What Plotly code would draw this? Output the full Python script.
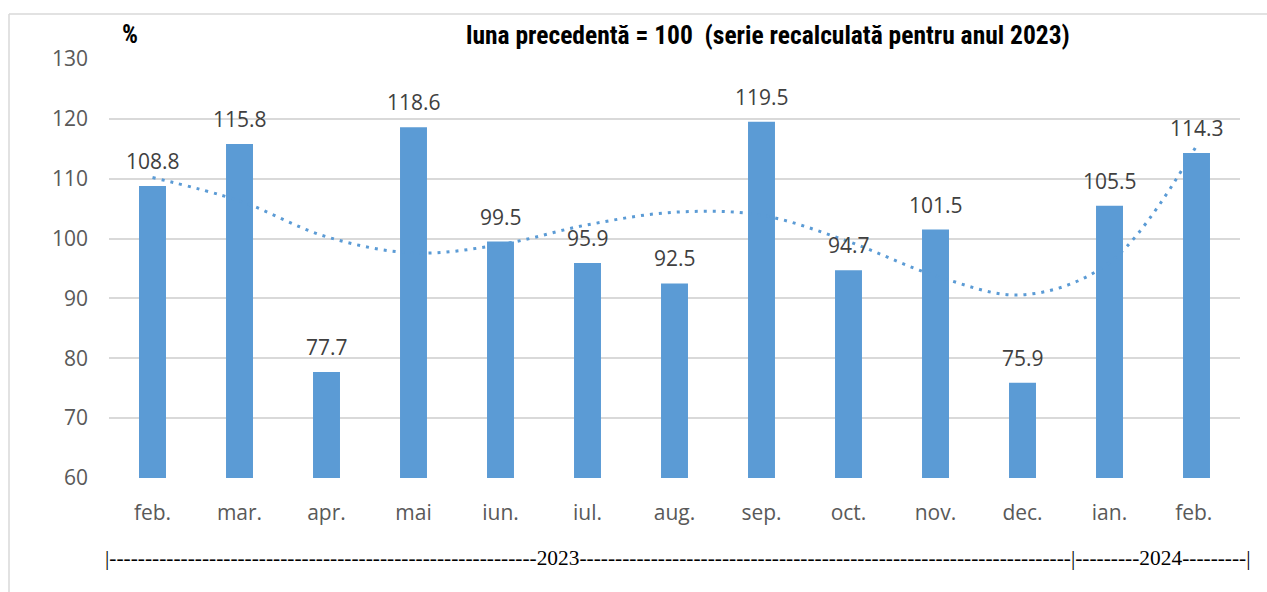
import plotly.graph_objects as go

categories = ["feb.", "mar.", "apr.", "mai", "iun.", "iul.", "aug.", "sep.", "oct.", "nov.", "dec.", "ian.", "feb. "]
values = [108.8, 115.8, 77.7, 118.6, 99.5, 95.9, 92.5, 119.5, 94.7, 101.5, 75.9, 105.5, 114.3]
# trendline (polynomial in the source) at each category
trend = [110.2, 106.3, 100.3, 97.6, 99.0, 102.3, 104.4, 103.9, 99.5, 93.8, 90.6, 96.0, 115.5]
y_ticks = [60, 70, 80, 90, 100, 110, 120, 130]

title_text = "luna precedentă = 100  (serie recalculată pentru anul 2023)"
unit_text = "%"
period_text = "|" + "-" * 60 + "2023" + "-" * 69 + "|" + "-" * 9 + "2024" + "-" * 9 + "|"

OFF = 0  # body margin removed via post_script
W, H = 1267, 592
# target plot area on screen: x 109..1240, y 59..478
L, T = 109 - OFF, 59 - OFF
R = W - (1240 - OFF)
B = H - (478 - OFF)
PW, PH = W - L - R, H - T - B


def px_x(px):
    return (px - OFF - L) / PW


def px_y(py):
    return (H - B - (py - OFF)) / PH


BLUE = "#5B9BD5"
SANS = "Open Sans, Noto Sans, sans-serif"
NARROW = "Liberation Sans Narrow, Arial Narrow, Roboto Condensed, Liberation Sans, Arial, sans-serif"

fig = go.Figure()
fig.add_trace(go.Bar(
    x=categories, y=values, marker=dict(color=BLUE, line=dict(width=0)),
    hoverinfo="x+y", showlegend=False,
))
fig.add_trace(go.Scatter(
    x=categories, y=trend, mode="lines",
    line=dict(color=BLUE, width=3, dash="3px,6px", shape="spline", smoothing=1.0),
    hoverinfo="skip", showlegend=False,
))

annotations = []
for c, v in zip(categories, values):
    annotations.append(dict(
        x=c, y=v, xref="x", yref="y", text=f"{v:.1f}", showarrow=False,
        yanchor="bottom", yshift=9, font=dict(family=SANS, size=21, color="#404040"),
    ))
annotations.append(dict(
    x=px_x(768), y=px_y(35), xref="paper", yref="paper", text="<b>" + title_text + "</b>",
    showarrow=False, xanchor="center", yanchor="middle",
    font=dict(family=NARROW, size=25.5, color="#000000"),
))
annotations.append(dict(
    x=px_x(130), y=px_y(35), xref="paper", yref="paper", text="<b>" + unit_text + "</b>",
    showarrow=False, xanchor="center", yanchor="middle",
    font=dict(family=NARROW, size=25, color="#000000"),
))
annotations.append(dict(
    x=px_x(103), y=px_y(558), xref="paper", yref="paper", text=period_text,
    showarrow=False, xanchor="left", yanchor="middle",
    font=dict(family="Liberation Serif, Times New Roman, serif", size=21.4, color="#000000"),
))

BORDER = dict(color="#D9D9D9", width=1.5)
shapes = [
    dict(type="rect", xref="paper", yref="paper",
         x0=px_x(1250), x1=px_x(1267), y0=px_y(20), y1=px_y(592),
         line=dict(width=0), fillcolor="white", layer="above"),
    dict(type="line", xref="paper", yref="paper",
         x0=px_x(9), x1=px_x(1267), y0=px_y(14), y1=px_y(14), line=BORDER, layer="above"),
    dict(type="line", xref="paper", yref="paper",
         x0=px_x(9), x1=px_x(9), y0=px_y(14), y1=px_y(592), line=BORDER, layer="below"),
]

fig.update_layout(
    width=W, height=H,
    margin=dict(l=L, r=R, t=T, b=B, autoexpand=False),
    paper_bgcolor="white", plot_bgcolor="white",
    bargap=0.69,
    annotations=annotations, shapes=shapes,
    xaxis=dict(
        type="category", showgrid=False, showline=False, zeroline=False,
        ticks="", tickfont=dict(family=SANS, size=21, color="#595959"),
        ticklabelstandoff=20, fixedrange=True,
    ),
    yaxis=dict(
        range=[60, 130], tickvals=y_ticks, ticktext=[str(t) for t in y_ticks],
        showgrid=True, gridcolor="#D9D9D9", gridwidth=1.5, zeroline=False, showline=False,
        ticks="", tickfont=dict(family=SANS, size=21, color="#595959"),
        ticklabelstandoff=20, fixedrange=True,
    ),
)

fig.write_html(
    "out.html",
    config={"displayModeBar": False},
    post_script="document.body.style.margin='0';document.body.style.overflow='hidden';",
)
